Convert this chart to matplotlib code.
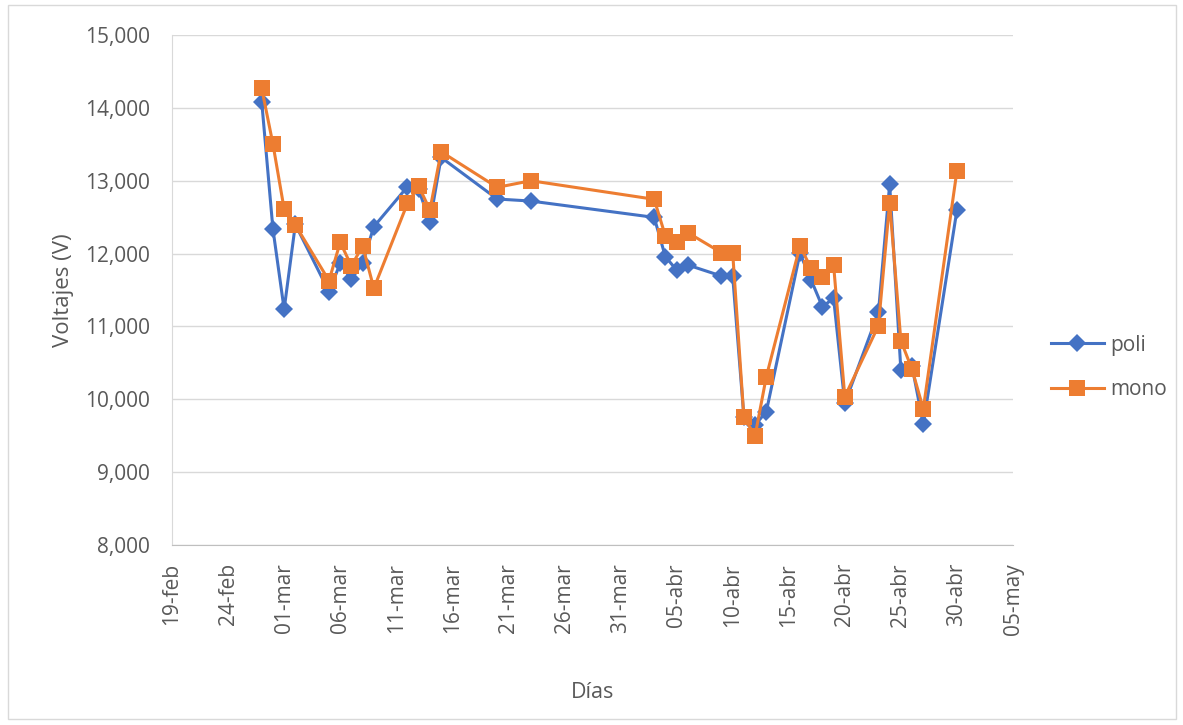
import matplotlib.pyplot as plt
from matplotlib.ticker import FuncFormatter
from matplotlib.patches import Rectangle
import datetime as dt

# Data
fechas = ["2023-02-27", "2023-02-28", "2023-03-01", "2023-03-02", "2023-03-05",
          "2023-03-06", "2023-03-07", "2023-03-08", "2023-03-09", "2023-03-12",
          "2023-03-13", "2023-03-14", "2023-03-15", "2023-03-20", "2023-03-23",
          "2023-04-03", "2023-04-04", "2023-04-05", "2023-04-06", "2023-04-09",
          "2023-04-10", "2023-04-11", "2023-04-12", "2023-04-13", "2023-04-16",
          "2023-04-17", "2023-04-18", "2023-04-19", "2023-04-20", "2023-04-23",
          "2023-04-24", "2023-04-25", "2023-04-26", "2023-04-27", "2023-04-30"]

poli = [14085, 12337, 11235, 12400, 11477, 11866, 11646, 11875, 12369, 12918,
        12880, 12430, 13320, 12749, 12721, 12497, 11957, 11774, 11843, 11692,
        11692, 9760, 9647, 9830, 12004, 11637, 11270, 11386, 9945, 11194,
        12950, 10402, 10450, 9657, 12598]

mono = [14268, 13504, 12611, 12392, 11628, 12155, 11830, 12108, 11523, 12690,
        12927, 12598, 13398, 12909, 13000, 12745, 12241, 12163, 12287, 12012,
        12012, 9753, 9500, 10310, 12104, 11797, 11683, 11843, 10036, 11010,
        12698, 10804, 10410, 9867, 13137]

tick_fechas = ["2023-02-19", "2023-02-24", "2023-03-01", "2023-03-06", "2023-03-11",
               "2023-03-16", "2023-03-21", "2023-03-26", "2023-03-31", "2023-04-05",
               "2023-04-10", "2023-04-15", "2023-04-20", "2023-04-25", "2023-04-30",
               "2023-05-05"]
tick_labels = ["19-feb", "24-feb", "01-mar", "06-mar", "11-mar", "16-mar", "21-mar",
               "26-mar", "31-mar", "05-abr", "10-abr", "15-abr", "20-abr", "25-abr",
               "30-abr", "05-may"]

x = [dt.datetime.strptime(f, "%Y-%m-%d") for f in fechas]
xt = [dt.datetime.strptime(f, "%Y-%m-%d") for f in tick_fechas]

plt.rcParams['font.family'] = ['Open Sans', 'DejaVu Sans']
txt = '#595959'
grid = '#d9d9d9'

fig = plt.figure(figsize=(11.83, 7.25), dpi=100)
ax = fig.add_axes([0.1454, 0.2483, 0.7109, 0.7034])

ax.plot(x, poli, color='#4472C4', lw=2.2, marker='D', markersize=9,
        markeredgewidth=0, label='poli')
ax.plot(x, mono, color='#ED7D31', lw=2.2, marker='s', markersize=11.5,
        markeredgewidth=0, label='mono')

ax.set_ylim(8000, 15000)
ax.set_yticks(range(8000, 15001, 1000))
ax.yaxis.set_major_formatter(FuncFormatter(lambda v, p: f"{int(v):,}"))
ax.set_xlim(xt[0], xt[-1])
ax.set_xticks(xt)
ax.set_xticklabels(tick_labels, rotation=90)

ax.grid(axis='y', color=grid, lw=1)
ax.set_axisbelow(True)
for s in ['top', 'right']:
    ax.spines[s].set_visible(False)
ax.spines['left'].set_color(grid)
ax.spines['bottom'].set_color('#bfbfbf')
ax.tick_params(axis='both', length=0, colors=txt, labelsize=15)
ax.tick_params(axis='y', pad=16)
ax.tick_params(axis='x', pad=13)

ax.set_ylabel('Voltajes (V)', color=txt, fontsize=16, labelpad=8)
ax.set_xlabel('Días', color=txt, fontsize=15.5, labelpad=34)

leg = ax.legend(loc='center left', bbox_to_anchor=(0.045, 0.348),
                bbox_transform=ax.transAxes, frameon=False, fontsize=15,
                borderaxespad=0, borderpad=0, handlelength=2.55,
                handletextpad=0.3, labelspacing=1.15)
leg.set_bbox_to_anchor((1.045, 0.348), transform=ax.transAxes)
for t in leg.get_texts():
    t.set_color(txt)

fig.patches.append(Rectangle((0.007, 0.008), 0.987, 0.985, transform=fig.transFigure,
                             fill=False, edgecolor=grid, lw=1))

fig.savefig('out.png', dpi=100)
